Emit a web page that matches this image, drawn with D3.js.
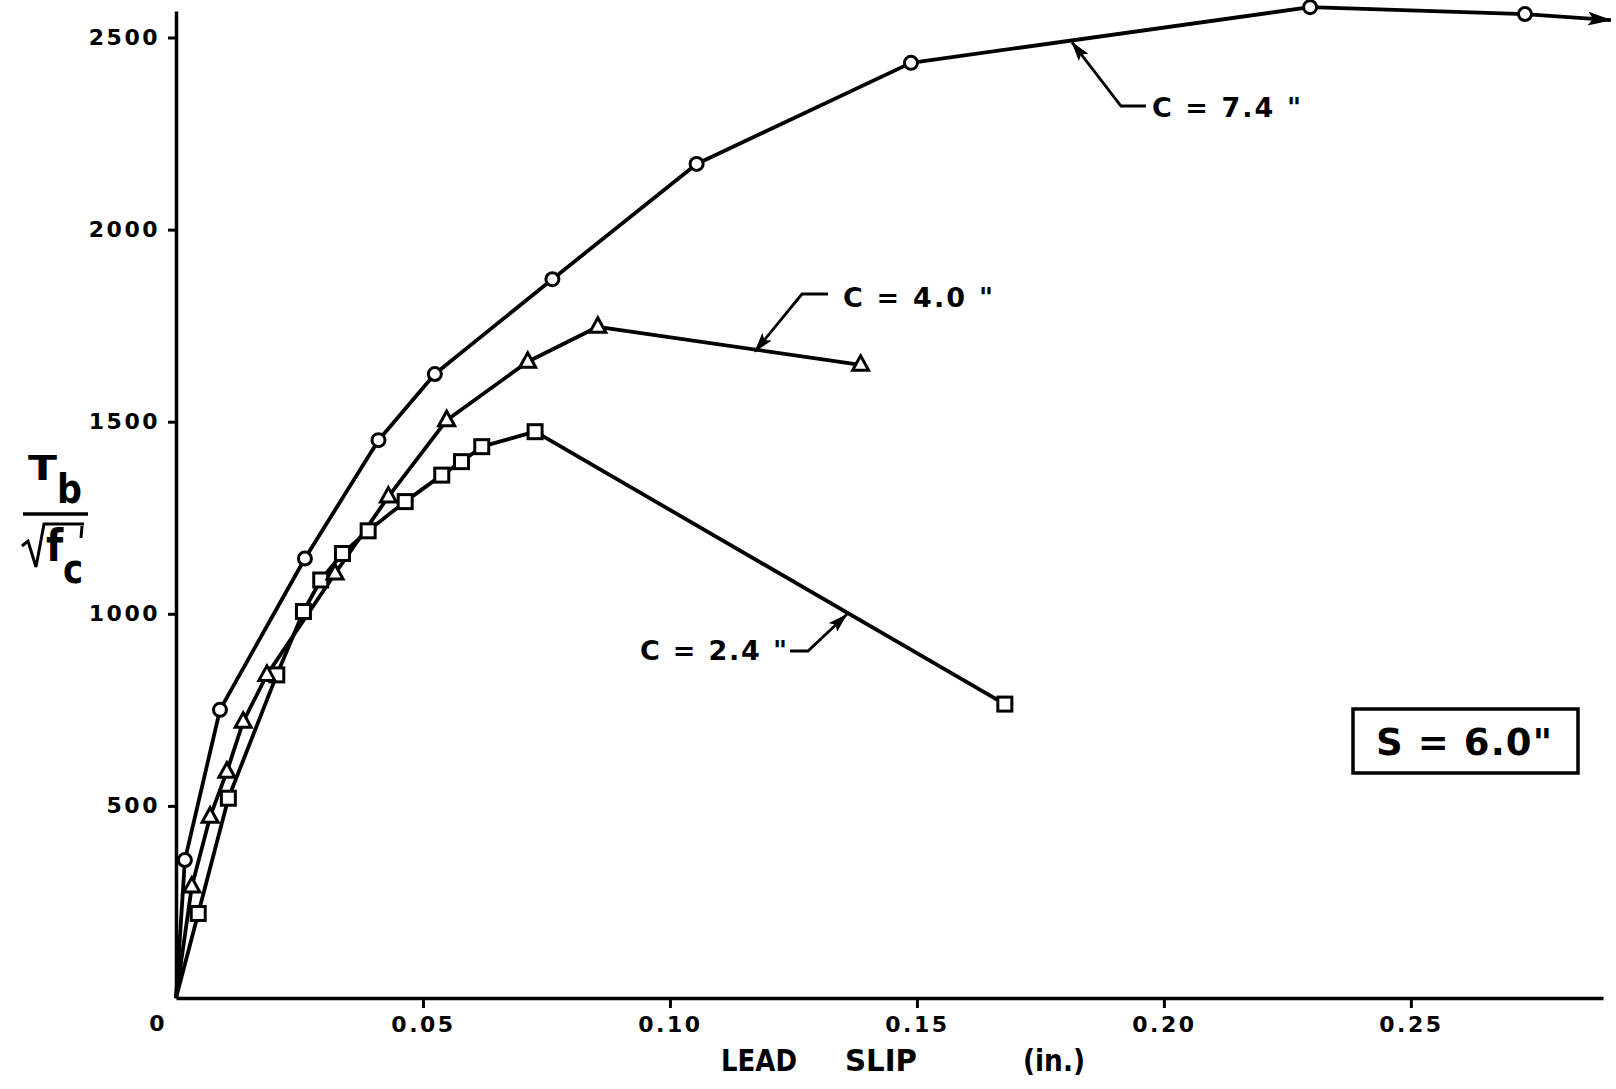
<!DOCTYPE html>
<html><head><meta charset="utf-8">
<script src="https://cdn.jsdelivr.net/npm/d3@7"></script>
<style>body{margin:0;background:#fff} svg{display:block}</style>
</head><body>
<svg id="c" width="1616" height="1089"></svg>
<script>
// ---- data ----
const xTicks = [0.05, 0.10, 0.15, 0.20, 0.25];
const xTickLabels = ["0.05", "0.10", "0.15", "0.20", "0.25"];
const yTicks = [500, 1000, 1500, 2000, 2500];
const yTickLabels = ["500", "1000", "1500", "2000", "2500"];

// C = 7.4" (circles)
const slip74 = [0, 0.0018, 0.0089, 0.0261, 0.0410, 0.0524, 0.0762, 0.1054, 0.1488, 0.2296, 0.2731];
const tb74   = [0, 359, 750, 1144, 1452, 1624, 1871, 2171, 2434, 2579, 2561];
const arrowEnd74 = [0.2905, 2545];
// C = 4.0" (triangles)
const slip40 = [0, 0.0032, 0.0069, 0.0103, 0.0136, 0.0184, 0.0322, 0.0430, 0.0548, 0.0712, 0.0854, 0.1386];
const tb40   = [0, 290, 472, 589, 719, 841, 1105, 1305, 1504, 1656, 1747, 1648];
// C = 2.4" (squares)
const slip24 = [0, 0.0045, 0.0106, 0.0204, 0.0258, 0.0293, 0.0337, 0.0389, 0.0464, 0.0538, 0.0578, 0.0619, 0.0727, 0.1678];
const tb24   = [0, 220, 520, 841, 1006, 1088, 1157, 1216, 1292, 1361, 1396, 1435, 1474, 765];

const seriesNames = ['C = 7.4 "', 'C = 4.0 "', 'C = 2.4 "'];
const leaderSlip = [0.1814, 0.1172, 0.1358];
const boxLabel = 'S = 6.0"';
const xTitleWords = ["LEAD", "SLIP", "(in.)"];

// ---- drawing ----
const svg = d3.select("#c");
const FONT = "'DejaVu Sans', sans-serif";
const x = d3.scaleLinear().domain([0, 0.2889]).range([176, 1603]);
const y = d3.scaleLinear().domain([0, 2569]).range([998, 11]);

const defs = svg.append("defs");
defs.append("marker").attr("id", "arr").attr("markerUnits", "userSpaceOnUse")
  .attr("viewBox", "0 0 24 14").attr("markerWidth", 24).attr("markerHeight", 14)
  .attr("refX", 23).attr("refY", 7).attr("orient", "auto")
  .append("path").attr("d", "M0,0 L24,7 L0,14 L5,7 Z").attr("fill", "#000");
defs.append("marker").attr("id", "arrS").attr("markerUnits", "userSpaceOnUse")
  .attr("viewBox", "0 0 20 12").attr("markerWidth", 20).attr("markerHeight", 12)
  .attr("refX", 19).attr("refY", 6).attr("orient", "auto")
  .append("path").attr("d", "M0,0 L20,6 L0,12 L4,6 Z").attr("fill", "#000");

// axes
const yAxis = d3.axisLeft(y).tickValues(yTicks).tickSize(8).tickSizeOuter(0).tickPadding(8)
  .tickFormat((d, i) => yTickLabels[i]);
const xAxis = d3.axisBottom(x).tickValues(xTicks).tickSize(10).tickSizeOuter(0).tickPadding(8)
  .tickFormat((d, i) => xTickLabels[i]);
const gy = svg.append("g").attr("transform", `translate(${x(0)},0)`).call(yAxis);
const gx = svg.append("g").attr("transform", `translate(0,${y(0)})`).call(xAxis);
[gx, gy].forEach(g => {
  g.select(".domain").attr("stroke", "#000").attr("stroke-width", 3.5);
  g.selectAll(".tick line").attr("stroke", "#000").attr("stroke-width", 3);
  g.selectAll(".tick text").attr("fill", "#000").style("font-family", FONT)
    .style("font-weight", "bold").style("font-size", "22px").style("letter-spacing", "2.5px");
});
svg.append("text").attr("x", 157).attr("y", 1031).attr("text-anchor", "middle")
  .style("font-family", FONT).style("font-weight", "bold").style("font-size", "22px").text("0");

// x axis title (condensed lettering, three words)
const xtPos = [[721, 76], [845, 72], [1023, 62]];
xTitleWords.forEach((w, i) => {
  svg.append("text").attr("x", xtPos[i][0]).attr("y", 1071)
    .attr("textLength", xtPos[i][1]).attr("lengthAdjust", "spacingAndGlyphs")
    .style("font-family", FONT).style("font-weight", "bold").style("font-size", "30px")
    .text(w);
});

// y axis title : Tb / sqrt(f'c)
const yl = svg.append("g").style("font-family", FONT).style("font-weight", "bold").attr("fill", "#000");
yl.append("text").attr("transform", "translate(28,480) scale(1.25,1)").style("font-size", "34px").text("T");
yl.append("text").attr("transform", "translate(57,503) scale(0.85,1)").style("font-size", "41px").text("b");
yl.append("line").attr("x1", 23).attr("x2", 88).attr("y1", 514).attr("y2", 514)
  .attr("stroke", "#000").attr("stroke-width", 3.5);
yl.append("path").attr("d", "M22,546 L28,541 L36,567 L44,524 L84,524")
  .attr("fill", "none").attr("stroke", "#000").attr("stroke-width", 3);
yl.append("text").attr("transform", "translate(46,561) scale(0.9,1)").style("font-size", "44px").text("f");
yl.append("line").attr("x1", 82).attr("x2", 81).attr("y1", 526).attr("y2", 538)
  .attr("stroke", "#000").attr("stroke-width", 3);
yl.append("text").attr("transform", "translate(63,583) scale(0.85,1)").style("font-size", "40px").text("c");

// series
const mk = (s, t) => s.map((v, i) => ({ s: v, t: t[i] }));
const d74 = mk(slip74, tb74), d40 = mk(slip40, tb40), d24 = mk(slip24, tb24);
const line = d3.line().x(d => x(d.s)).y(d => y(d.t));
const lg = svg.append("g").attr("fill", "none").attr("stroke", "#000")
  .attr("stroke-width", 3.8).attr("stroke-linejoin", "round");
lg.append("path").attr("d", line(d24));
lg.append("path").attr("d", line(d40));
lg.append("path").attr("d", line(d74));
const last74 = d74[d74.length - 1];
lg.append("path").attr("d", line([last74, { s: arrowEnd74[0], t: arrowEnd74[1] }]))
  .attr("marker-end", "url(#arr)");

// markers
const mg = svg.append("g").attr("fill", "#fff").attr("stroke", "#000").attr("stroke-width", 3);
mg.selectAll(".sq").data(d24.slice(1)).join("rect")
  .attr("x", d => x(d.s) - 7).attr("y", d => y(d.t) - 7).attr("width", 14).attr("height", 14);
mg.selectAll(".tr").data(d40.slice(1)).join("path")
  .attr("d", d => `M${x(d.s)},${y(d.t) - 9} L${x(d.s) + 8},${y(d.t) + 5.5} L${x(d.s) - 8},${y(d.t) + 5.5} Z`);
mg.selectAll(".ci").data(d74.slice(1)).join("circle")
  .attr("cx", d => x(d.s)).attr("cy", d => y(d.t)).attr("r", 6.5);

// leaders / annotations
function interp(data, s) {
  for (let i = 1; i < data.length; i++) {
    const a = data[i - 1], b = data[i];
    if (s >= a.s && s <= b.s) return a.t + (b.t - a.t) * (s - a.s) / (b.s - a.s);
  }
  return data[data.length - 1].t;
}
const ann = [
  { data: d74, s: leaderSlip[0], elbow: [[1146, 106], [1121, 106]], tx: 1152, ty: 107, w: 149, label: seriesNames[0] },
  { data: d40, s: leaderSlip[1], elbow: [[828, 294], [802, 294]], tx: 843, ty: 297, w: 150, label: seriesNames[1] },
  { data: d24, s: leaderSlip[2], elbow: [[790, 651], [808, 651]], tx: 640, ty: 650, w: 147, label: seriesNames[2] }
];
ann.forEach(a => {
  const tip = [x(a.s), y(interp(a.data, a.s)) + 2];
  const pts = a.elbow.concat([tip]);
  svg.append("path").attr("d", d3.line()(pts)).attr("fill", "none").attr("stroke", "#000")
    .attr("stroke-width", 2.8).attr("marker-end", "url(#arrS)");
  svg.append("text").attr("x", a.tx).attr("y", a.ty).attr("dominant-baseline", "central")
    .attr("textLength", a.w).attr("lengthAdjust", "spacing")
    .style("font-family", FONT).style("font-weight", "bold").style("font-size", "27px")
    .text(a.label);
});

// S box
svg.append("rect").attr("x", 1353).attr("y", 709).attr("width", 225).attr("height", 64)
  .attr("fill", "#fff").attr("stroke", "#000").attr("stroke-width", 3.5);
svg.append("text").attr("x", 1376).attr("y", 742).attr("dominant-baseline", "central")
  .attr("textLength", 176).attr("lengthAdjust", "spacing")
  .style("font-family", FONT).style("font-size", "37px").style("font-weight", "bold")
  .text(boxLabel);
</script>
</body></html>
